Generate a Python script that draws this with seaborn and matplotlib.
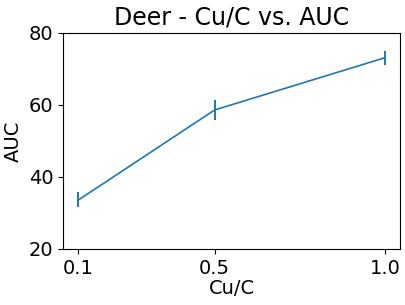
import matplotlib
matplotlib.use("Agg")
import matplotlib.pyplot as plt
import seaborn as sns

ratios = [0.1, 0.5, 1.0]
auc = [33.6, 58.6, 73.1]
auc_err = [2.1, 2.8, 2.0]

sns.set_style("ticks")
plt.rcParams.update({
    "font.family": ["DejaVu Sans"],
    "text.color": "black",
    "axes.labelcolor": "black",
    "axes.edgecolor": "black",
    "xtick.color": "black",
    "ytick.color": "black",
})

fig, ax = plt.subplots(figsize=(4.05, 3.05), dpi=100)
sns.lineplot(x=ratios, y=auc, ax=ax, color="#1f77b4", linewidth=1.2)
ax.errorbar(ratios, auc, yerr=auc_err, fmt="none", ecolor="#1f77b4", elinewidth=1.4)

ax.set_ylim(20, 80)
ax.set_yticks([20, 40, 60, 80])
ax.set_xticks(ratios)
ax.set_xticklabels(["0.1", "0.5", "1.0"])
ax.tick_params(labelsize=14)
ax.set_xlabel("Cu/C", fontsize=14, labelpad=1)
ax.set_ylabel("AUC", fontsize=14)
ax.set_title("Deer - Cu/C vs. AUC", fontsize=17)

fig.subplots_adjust(left=0.156, right=0.988, top=0.892, bottom=0.184)
fig.savefig("out.png", dpi=100)
